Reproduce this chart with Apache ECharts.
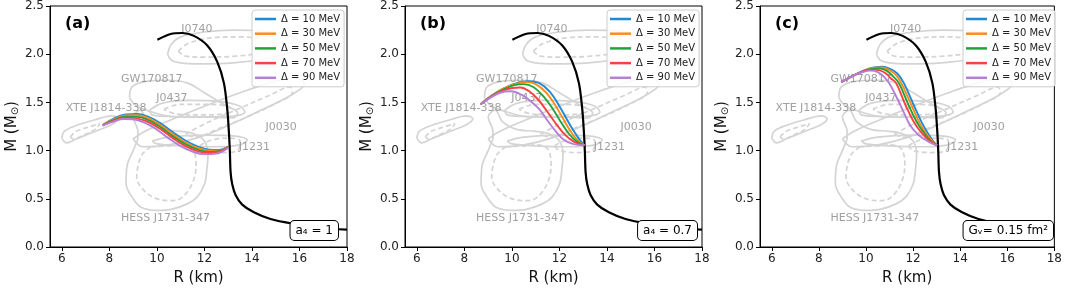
<!DOCTYPE html>
<html>
<head>
<meta charset="utf-8">
<script src="https://cdn.jsdelivr.net/npm/echarts@6/dist/echarts.min.js"></script>
<style>
  html, body { margin: 0; padding: 0; background: #fff; }
  #main { width: 1065px; height: 291px; }
</style>
</head>
<body>
<div id="main"></div>
<script>
// tick values / labels
var xTicks = [6, 8, 10, 12, 14, 16, 18];
var yTicks = ['0.0', '0.5', '1.0', '1.5', '2.0', '2.5'];
var deltaNames = ['Δ = 10 MeV', 'Δ = 30 MeV', 'Δ = 50 MeV', 'Δ = 70 MeV', 'Δ = 90 MeV'];
var panelTags = ['(a)', '(b)', '(c)'];
var boxTexts = ['a₄ = 1', 'a₄ = 0.7', 'Gᵥ= 0.15 fm²'];

// hadronic branch (black), same in every panel
var blackCurve = [[10.02,2.15],[10.58,2.21],[11.07,2.22],[11.56,2.19],[12.12,2.09],[12.54,1.92],[12.82,1.70],
  [12.96,1.43],[13.03,1.19],[13.07,0.99],[13.10,0.78],[13.17,0.65],[13.31,0.54],[13.59,0.44],[14.08,0.36],
  [14.78,0.29],[15.76,0.24],[16.88,0.20],[18.0,0.18]];

// panel (a): a4 = 1
var a10 = [[7.75,1.27],[8.2,1.335],[8.7,1.375],[9.2,1.38],[9.7,1.345],[10.2,1.275],[10.7,1.185],[11.2,1.105],[11.7,1.045],[12.2,1.01],[12.6,1.008],[13.0,1.04]];
var a30 = [[7.75,1.27],[8.2,1.327],[8.7,1.364],[9.2,1.366],[9.7,1.329],[10.2,1.257],[10.7,1.166],[11.2,1.087],[11.7,1.03],[12.2,0.998],[12.6,1.0],[13.0,1.04]];
var a50 = [[7.72,1.265],[8.2,1.318],[8.7,1.352],[9.2,1.35],[9.7,1.31],[10.2,1.236],[10.7,1.145],[11.2,1.067],[11.7,1.012],[12.2,0.986],[12.6,0.993],[13.0,1.038]];
var a70 = [[7.72,1.262],[8.2,1.311],[8.7,1.34],[9.2,1.332],[9.7,1.29],[10.2,1.215],[10.7,1.124],[11.2,1.047],[11.7,0.994],[12.2,0.975],[12.6,0.986],[13.0,1.035]];
var a90 = [[7.7,1.26],[8.2,1.303],[8.6,1.328],[9.0,1.325],[9.5,1.287],[10.0,1.217],[10.5,1.127],[11.0,1.047],[11.5,0.99],[12.0,0.963],[12.5,0.969],[13.0,1.03]];

// panel (b): a4 = 0.7
var b10 = [[8.68,1.48],[9.2,1.58],[9.7,1.65],[10.2,1.70],[10.7,1.72],[11.15,1.70],[11.6,1.61],[12.0,1.46],[12.3,1.33],[12.56,1.22],[12.8,1.13],[13.05,1.055]];
var b30 = [[8.68,1.48],[9.2,1.58],[9.7,1.65],[10.2,1.695],[10.6,1.71],[11.0,1.69],[11.45,1.60],[11.85,1.46],[12.18,1.32],[12.47,1.20],[12.75,1.11],[13.05,1.055]];
var b50 = [[8.68,1.48],[9.2,1.575],[9.7,1.64],[10.1,1.68],[10.5,1.69],[10.9,1.66],[11.3,1.57],[11.7,1.44],[12.05,1.30],[12.38,1.18],[12.7,1.10],[13.05,1.055]];
var b70 = [[8.68,1.48],[9.2,1.57],[9.6,1.62],[10.0,1.65],[10.35,1.655],[10.7,1.62],[11.1,1.53],[11.5,1.40],[11.88,1.27],[12.25,1.16],[12.62,1.09],[13.05,1.055]];
var b90 = [[8.68,1.48],[9.1,1.55],[9.5,1.60],[9.95,1.615],[10.4,1.58],[10.8,1.51],[11.15,1.43],[11.5,1.31],[11.88,1.19],[12.2,1.11],[12.56,1.07],[13.05,1.055]];

// panel (c): Gv = 0.15 fm^2
var c10 = [[8.95,1.71],[9.4,1.77],[9.9,1.83],[10.4,1.865],[10.7,1.87],[11.0,1.85],[11.33,1.80],[11.61,1.70],[12.05,1.46],[12.35,1.30],[12.6,1.19],[12.85,1.10],[13.02,1.055]];
var c30 = [[8.95,1.71],[9.4,1.77],[9.9,1.825],[10.35,1.86],[10.65,1.862],[10.95,1.84],[11.25,1.79],[11.5,1.70],[11.95,1.46],[12.25,1.30],[12.52,1.19],[12.8,1.10],[13.02,1.055]];
var c50 = [[8.95,1.71],[9.4,1.77],[9.85,1.82],[10.3,1.85],[10.6,1.852],[10.9,1.825],[11.15,1.77],[11.4,1.70],[11.83,1.46],[12.15,1.30],[12.45,1.19],[12.75,1.10],[13.02,1.055]];
var c70 = [[8.95,1.71],[9.4,1.77],[9.8,1.815],[10.25,1.84],[10.55,1.835],[10.85,1.80],[11.05,1.75],[11.28,1.70],[11.7,1.46],[12.05,1.29],[12.38,1.18],[12.7,1.10],[13.02,1.055]];
var c90 = [[8.95,1.71],[9.4,1.77],[9.8,1.81],[10.2,1.83],[10.5,1.815],[10.75,1.77],[10.98,1.70],[11.33,1.54],[11.6,1.40],[11.88,1.26],[12.2,1.17],[12.47,1.12],[12.75,1.08],[13.02,1.055]];

var j0740Outer = [[10.45,2.0],[10.6,2.1],[11.0,2.18],[12.0,2.23],[13.2,2.25],[14.5,2.24],[15.6,2.19],[16.0,2.12],[15.6,2.02],[14.5,1.95],[13.2,1.91],[11.8,1.9],[11.0,1.91],[10.6,1.94],[10.45,2.0]];
var j0740Inner = [[10.9,2.03],[11.3,2.11],[12.3,2.17],[13.5,2.18],[14.6,2.15],[15.0,2.09],[14.5,2.02],[13.3,1.98],[12.0,1.97],[11.2,1.98],[10.9,2.03]];
var gwOuter = [[8.85,1.55],[8.95,1.66],[9.6,1.72],[10.5,1.73],[11.3,1.70],[12.0,1.60],[12.8,1.48],[13.4,1.39],[13.2,1.34],[12.0,1.35],[10.8,1.35],[9.8,1.4],[9.1,1.47],[8.85,1.55]];
var j0437Outer = [[9.7,1.42],[10.2,1.49],[11.3,1.52],[12.6,1.51],[13.5,1.46],[13.7,1.40],[13.3,1.36],[12.0,1.35],[10.5,1.355],[9.8,1.37],[9.7,1.42]];
var j0437Inner = [[10.3,1.43],[11.0,1.48],[12.2,1.48],[13.1,1.44],[13.0,1.39],[12.0,1.37],[10.8,1.38],[10.3,1.43]];
var j0030Outer = [[9.0,1.12],[9.5,1.2],[10.5,1.31],[12.0,1.46],[13.5,1.6],[15.0,1.72],[15.9,1.76],[16.2,1.69],[15.6,1.57],[14.3,1.41],[13.0,1.26],[11.8,1.14],[10.5,1.06],[9.4,1.04],[9.0,1.12]];
var j0030Inner = [[11.2,1.17],[12.2,1.30],[13.5,1.44],[14.8,1.58],[15.6,1.66],[15.7,1.6],[15.0,1.49],[13.9,1.36],[12.7,1.24],[11.6,1.14],[11.2,1.17]];
var j1231Outer = [[9.8,1.1],[10.5,1.14],[12.0,1.16],[13.3,1.15],[13.8,1.11],[13.5,1.06],[12.5,1.04],[11.0,1.05],[10.0,1.07],[9.8,1.1]];
var j1231Inner = [[11.8,1.05],[12.3,1.11],[13.0,1.13],[13.5,1.1],[13.4,1.0],[12.8,0.98],[12.0,1.0],[11.8,1.05]];
var xteOuter = [[6.0,1.13],[6.1,1.2],[6.6,1.26],[7.4,1.32],[8.1,1.36],[8.35,1.33],[8.1,1.27],[7.3,1.19],[6.6,1.12],[6.2,1.08],[6.0,1.13]];
var xteInner = [[6.35,1.14],[6.6,1.2],[7.2,1.25],[7.6,1.28],[7.4,1.22],[6.9,1.16],[6.5,1.12],[6.35,1.14]];
var hessOuter = [[9.2,1.12],[9.0,1.0],[8.75,0.85],[8.7,0.66],[9.0,0.5],[9.35,0.41],[10.0,0.38],[10.6,0.39],[11.3,0.45],[11.7,0.52],[12.0,0.65],[12.1,0.8],[12.15,0.97],[12.0,1.1],[11.6,1.17],[11.0,1.2],[10.2,1.22],[9.6,1.3],[9.3,1.42],[9.0,1.35],[9.2,1.2],[9.2,1.12]];
var hessInner = [[9.75,1.04],[9.35,0.95],[9.15,0.72],[9.4,0.6],[9.9,0.51],[10.5,0.48],[10.9,0.49],[11.45,0.64],[11.65,0.85],[11.5,1.02],[11.0,1.06],[10.6,1.05],[9.75,1.04]];

// source labels: name and (R, M) of the text's left edge
var srcNames = ['J0740', 'GW170817', 'XTE J1814-338', 'J0437', 'J0030', 'J1231', 'HESS J1731-347'];
var srcPos = [[11.0,2.26],[8.47,1.745],[6.14,1.445],[9.95,1.54],[14.55,1.24],[13.42,1.04],[8.47,0.30]];

var panelCurves = [[a10,a30,a50,a70,a90],[b10,b30,b50,b70,b90],[c10,c30,c50,c70,c90]];
var solidContours = [j0740Outer, gwOuter, j0437Outer, j0030Outer, j1231Outer, xteOuter, hessOuter];
var dashedContours = [j0740Inner, j0437Inner, j0030Inner, j1231Inner, xteInner, hessInner];

var deltaColors = ['#1f8ad6', '#ff8c1a', '#22a33a', '#ff4040', '#b57fd8'];
var gridLefts = [50, 405, 760];
var legendLefts = [252, 607, 963];
var boxRights = [338, 697, 1053];
var FONT = 'DejaVu Sans';

var myChart = echarts.init(document.getElementById('main'));

var grids = [], xAxes = [], yAxes = [], series = [], legends = [], graphics = [];

for (var i = 0; i < 3; i++) {
  grids.push({ left: gridLefts[i], top: 5, width: 297, height: 245, show: true, borderColor: '#000', borderWidth: 1 });
  xAxes.push({
    gridIndex: i, type: 'value', min: 5.5, max: 18,
    name: 'R (km)', nameLocation: 'middle', nameGap: 24,
    nameTextStyle: { fontSize: 15, fontFamily: FONT, color: '#111' },
    axisLine: { onZero: false, lineStyle: { color: '#000', width: 1 } },
    axisTick: { show: true, length: 4, lineStyle: { color: '#000' }, customValues: xTicks },
    axisLabel: { fontSize: 12, fontFamily: FONT, color: '#222', margin: 6, customValues: xTicks },
    splitLine: { show: false }
  });
  yAxes.push({
    gridIndex: i, type: 'value', min: 0, max: 2.5, interval: 0.5,
    name: 'M (M{s|⊙})', nameLocation: 'middle', nameGap: 30,
    nameTextStyle: { fontSize: 15, fontFamily: FONT, color: '#111',
      rich: { s: { fontSize: 10, fontFamily: FONT, color: '#111', padding: [6, 0, 0, 0] } } },
    axisLine: { lineStyle: { color: '#000', width: 1 } },
    axisTick: { show: true, length: 4, lineStyle: { color: '#000' } },
    axisLabel: { fontSize: 12, fontFamily: FONT, color: '#222', margin: 6,
      formatter: function (v) { return yTicks[Math.round(v / 0.5)]; } },
    splitLine: { show: false }
  });

  // contours
  solidContours.forEach(function (c) {
    series.push({ type: 'line', xAxisIndex: i, yAxisIndex: i, data: c, symbol: 'none', smooth: 0.35, silent: true, z: 1,
      lineStyle: { color: '#d4d4d4', width: 1.7 } });
  });
  dashedContours.forEach(function (c) {
    series.push({ type: 'line', xAxisIndex: i, yAxisIndex: i, data: c, symbol: 'none', smooth: 0.35, silent: true, z: 1,
      lineStyle: { color: '#d4d4d4', width: 1.7, type: [5, 3] } });
  });

  // source labels
  series.push({
    type: 'scatter', xAxisIndex: i, yAxisIndex: i, symbolSize: 1, z: 2, silent: true,
    itemStyle: { color: 'rgba(0,0,0,0)' },
    data: srcPos.map(function (p, k) { return [p[0], p[1], srcNames[k]]; }),
    label: { show: true, position: 'right', distance: 0, fontSize: 11, fontFamily: FONT, color: '#888',
      formatter: function (p) { return p.data[2]; } }
  });

  // black curve
  series.push({ type: 'line', xAxisIndex: i, yAxisIndex: i, data: blackCurve, symbol: 'none', smooth: 0.3, z: 4,
    lineStyle: { color: '#000', width: 2.2 } });

  // delta curves
  panelCurves[i].forEach(function (c, k) {
    series.push({ name: deltaNames[k], type: 'line', xAxisIndex: i, yAxisIndex: i, data: c, symbol: 'none', smooth: 0.4, z: 5,
      itemStyle: { color: deltaColors[k] }, lineStyle: { color: deltaColors[k], width: 1.9 } });
  });

  legends.push({
    data: deltaNames, orient: 'vertical', left: legendLefts[i], top: 10,
    icon: 'rect', itemWidth: 21, itemHeight: 2.5, itemGap: 2.7,
    padding: [3, 4, 3, 3], borderColor: '#ccc', borderWidth: 1, borderRadius: 3,
    backgroundColor: 'rgba(255,255,255,0.85)',
    textStyle: { fontSize: 10, fontFamily: FONT, color: '#222', lineHeight: 12 }
  });

  graphics.push({
    type: 'text', left: gridLefts[i] + 15, top: 16, z: 10,
    style: { text: panelTags[i], font: 'bold 16px ' + FONT, fill: '#000' }
  });
  graphics.push({
    type: 'text', x: boxRights[i], y: 240, z: 10,
    style: { text: boxTexts[i], fontSize: 12, fontFamily: FONT, fill: '#000',
      align: 'right', verticalAlign: 'bottom',
      backgroundColor: '#fff', borderColor: '#000', borderWidth: 1, borderRadius: 4, padding: [4, 5, 3, 5] }
  });
}

var option = {
  animation: false,
  grid: grids,
  xAxis: xAxes,
  yAxis: yAxes,
  legend: legends,
  graphic: graphics,
  series: series
};
myChart.setOption(option);
window.addEventListener('resize', function () { myChart.resize(); });
</script>
</body>
</html>
